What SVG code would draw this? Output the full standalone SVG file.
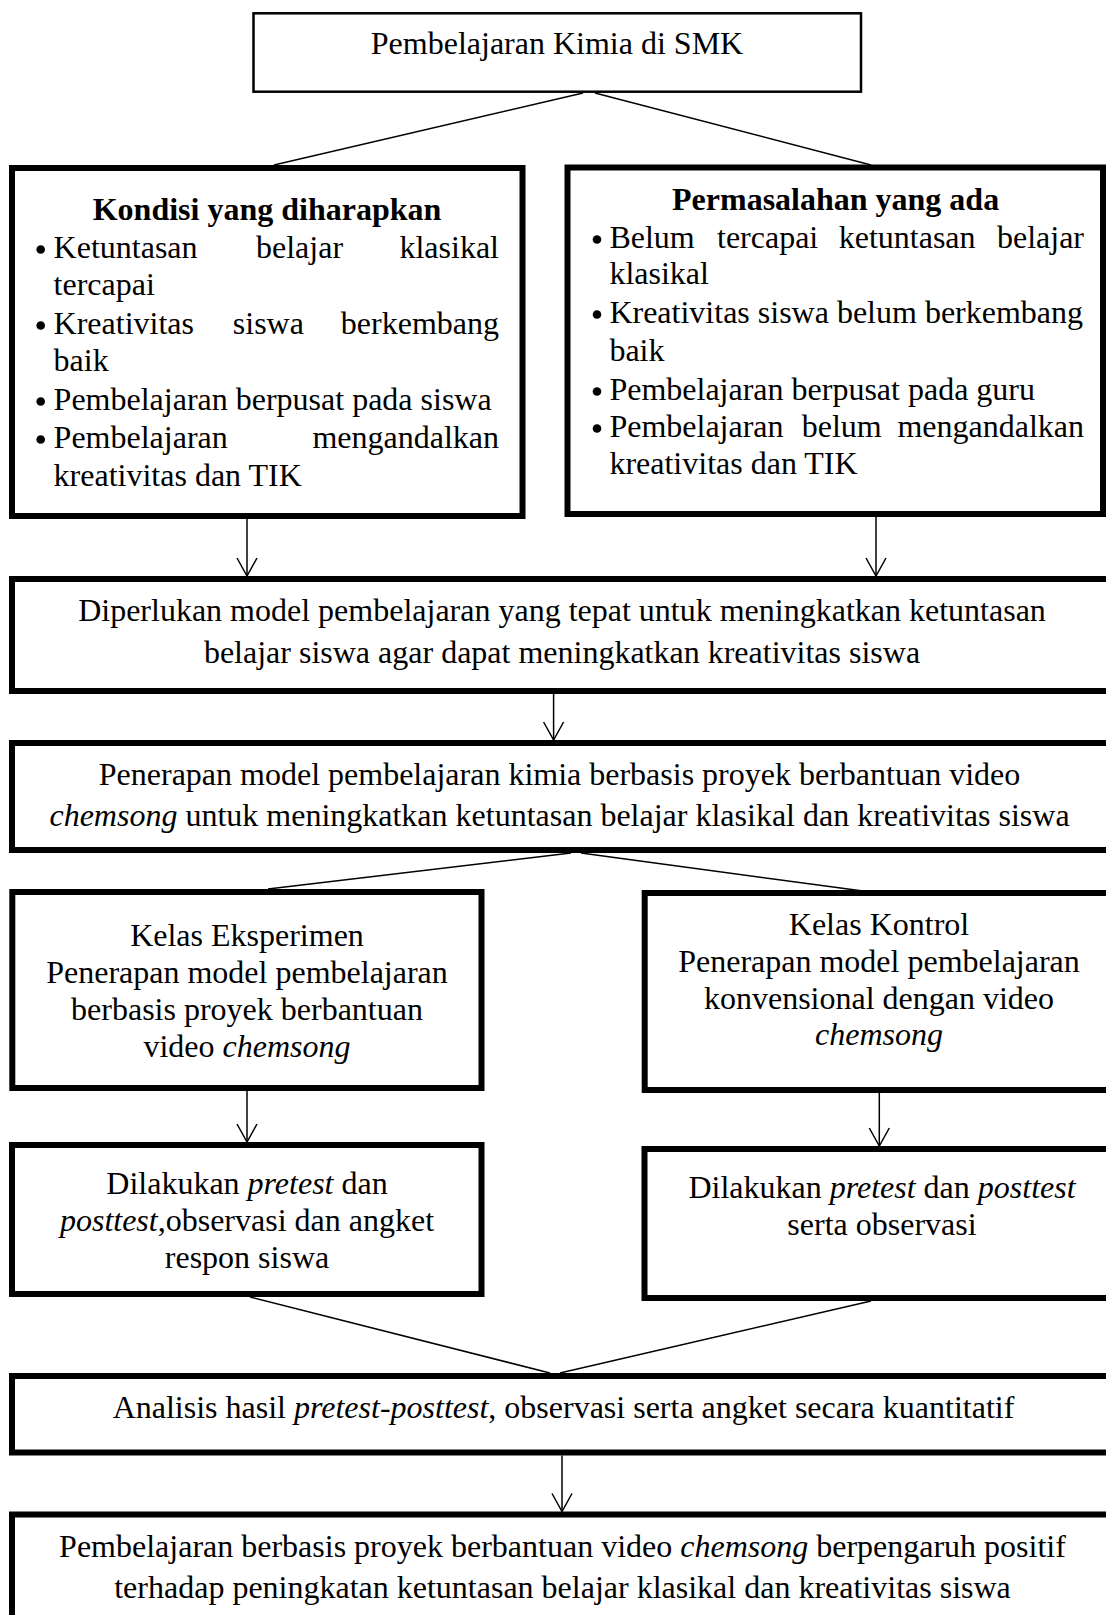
<svg xmlns="http://www.w3.org/2000/svg" width="1106" height="1615" viewBox="0 0 1106 1615">
<defs>
<style>
text{font-family:"Liberation Serif","Times New Roman",serif;font-size:32px;fill:#000}
.c{text-anchor:middle}
.e{text-anchor:end}
.b{font-weight:bold}
.i{font-style:italic}
.dot{fill:#000}
.box{fill:#fff;stroke:#000;stroke-width:6}
.thin{fill:#fff;stroke:#000;stroke-width:2.5}
.ln{fill:none;stroke:#000;stroke-width:1.5}
</style>
<marker id="arr" markerUnits="userSpaceOnUse" markerWidth="40" markerHeight="40" refX="0" refY="0" orient="auto" overflow="visible">
<path d="M-18,-10 L0,0 L-18,10" fill="none" stroke="#000" stroke-width="1.5"/>
</marker>
</defs>
<rect width="1106" height="1615" fill="#fff"/>

<g id="connectors">
<line class="ln" x1="583" y1="93" x2="274" y2="165"/>
<line class="ln" x1="595" y1="93" x2="871" y2="165"/>
<line class="ln" x1="247" y1="519" x2="247" y2="576" marker-end="url(#arr)"/>
<line class="ln" x1="876" y1="517" x2="876" y2="576" marker-end="url(#arr)"/>
<line class="ln" x1="553.6" y1="694" x2="553.6" y2="740" marker-end="url(#arr)"/>
<line class="ln" x1="571" y1="853" x2="268" y2="889"/>
<line class="ln" x1="581" y1="853" x2="863" y2="891"/>
<line class="ln" x1="247" y1="1091" x2="247" y2="1142" marker-end="url(#arr)"/>
<line class="ln" x1="879.3" y1="1093" x2="879.3" y2="1146" marker-end="url(#arr)"/>
<line class="ln" x1="250" y1="1297" x2="550" y2="1373"/>
<line class="ln" x1="871" y1="1301" x2="560" y2="1373"/>
<line class="ln" x1="562" y1="1455.5" x2="562" y2="1511.5" marker-end="url(#arr)"/>
</g>

<g id="node-top">
<rect class="thin" x="253.5" y="13.3" width="607.5" height="78.4"/>
<text class="c" x="557" y="54">Pembelajaran Kimia di SMK</text>
</g>

<g id="node-kondisi">
<rect class="box" x="12" y="168" width="510.5" height="348"/>
<text class="c b" x="267" y="220">Kondisi yang diharapkan</text>
<circle class="dot" cx="40.7" cy="249.5" r="4.3"/>
<text x="53.6" y="258">Ketuntasan</text>
<text x="256" y="258">belajar</text>
<text class="e" x="499" y="258">klasikal</text>
<text x="53.6" y="295">tercapai</text>
<circle class="dot" cx="40.7" cy="325.5" r="4.3"/>
<text x="53.6" y="334">Kreativitas</text>
<text x="232.8" y="334">siswa</text>
<text class="e" x="499" y="334">berkembang</text>
<text x="53.6" y="371">baik</text>
<circle class="dot" cx="40.7" cy="401.5" r="4.3"/>
<text x="53.6" y="410">Pembelajaran berpusat pada siswa</text>
<circle class="dot" cx="40.7" cy="439.5" r="4.3"/>
<text x="53.6" y="448">Pembelajaran</text>
<text class="e" x="499" y="448">mengandalkan</text>
<text x="53.6" y="486">kreativitas dan TIK</text>
</g>

<g id="node-permasalahan">
<rect class="box" x="567.5" y="167.5" width="535.5" height="346.5"/>
<text class="c b" x="835.6" y="210">Permasalahan yang ada</text>
<circle class="dot" cx="597" cy="239.5" r="4.3"/>
<text x="609.4" y="248">Belum</text>
<text x="717" y="248">tercapai</text>
<text x="838.7" y="248">ketuntasan</text>
<text class="e" x="1084" y="248">belajar</text>
<text x="609.4" y="284">klasikal</text>
<circle class="dot" cx="597" cy="314.5" r="4.3"/>
<text x="609.4" y="323">Kreativitas siswa belum berkembang</text>
<text x="609.4" y="361">baik</text>
<circle class="dot" cx="597" cy="391.5" r="4.3"/>
<text x="609.4" y="400">Pembelajaran berpusat pada guru</text>
<circle class="dot" cx="597" cy="428.5" r="4.3"/>
<text x="609.4" y="437">Pembelajaran</text>
<text x="801.7" y="437">belum</text>
<text class="e" x="1084" y="437">mengandalkan</text>
<text x="609.4" y="474">kreativitas dan TIK</text>
</g>

<g id="node-diperlukan">
<rect class="box" x="12" y="579" width="1110" height="112"/>
<text class="c" x="562" y="621">Diperlukan model pembelajaran yang tepat untuk meningkatkan ketuntasan</text>
<text class="c" x="562" y="663">belajar siswa agar dapat meningkatkan kreativitas siswa</text>
</g>

<g id="node-penerapan">
<rect class="box" x="12" y="743" width="1110" height="107"/>
<text class="c" x="559.5" y="785">Penerapan model pembelajaran kimia berbasis proyek berbantuan video</text>
<text class="c" x="559.5" y="826"><tspan class="i">chemsong</tspan> untuk meningkatkan ketuntasan belajar klasikal dan kreativitas siswa</text>
</g>

<g id="node-eksperimen">
<rect class="box" x="12.3" y="892" width="469.2" height="196"/>
<text class="c" x="247" y="946">Kelas Eksperimen</text>
<text class="c" x="247" y="983">Penerapan model pembelajaran</text>
<text class="c" x="247" y="1020">berbasis proyek berbantuan</text>
<text class="c" x="247" y="1057">video <tspan class="i">chemsong</tspan></text>
</g>

<g id="node-kontrol">
<rect class="box" x="644.7" y="893" width="480" height="197"/>
<text class="c" x="879" y="935">Kelas Kontrol</text>
<text class="c" x="879" y="972">Penerapan model pembelajaran</text>
<text class="c" x="879" y="1009">konvensional dengan video</text>
<text class="c i" x="879" y="1045">chemsong</text>
</g>

<g id="node-test-eksperimen">
<rect class="box" x="12" y="1145" width="469.5" height="149"/>
<text class="c" x="247" y="1194">Dilakukan <tspan class="i">pretest</tspan> dan</text>
<text class="c" x="247" y="1231"><tspan class="i">posttest</tspan>,observasi dan angket</text>
<text class="c" x="247" y="1268">respon siswa</text>
</g>

<g id="node-test-kontrol">
<rect class="box" x="644.5" y="1149" width="480" height="149"/>
<text class="c" x="882" y="1197.5">Dilakukan <tspan class="i">pretest</tspan> dan <tspan class="i">posttest</tspan></text>
<text class="c" x="882" y="1235">serta observasi</text>
</g>

<g id="node-analisis">
<rect class="box" x="12" y="1376" width="1110" height="76.5"/>
<text class="c" x="563.5" y="1418">Analisis hasil <tspan class="i">pretest-posttest</tspan>, observasi serta angket secara kuantitatif</text>
</g>

<g id="node-hasil">
<rect class="box" x="12" y="1514.5" width="1110" height="120"/>
<text class="c" x="562.5" y="1557">Pembelajaran berbasis proyek berbantuan video <tspan class="i">chemsong</tspan> berpengaruh positif</text>
<text class="c" x="562.5" y="1597.5">terhadap peningkatan ketuntasan belajar klasikal dan kreativitas siswa</text>
</g>
</svg>
